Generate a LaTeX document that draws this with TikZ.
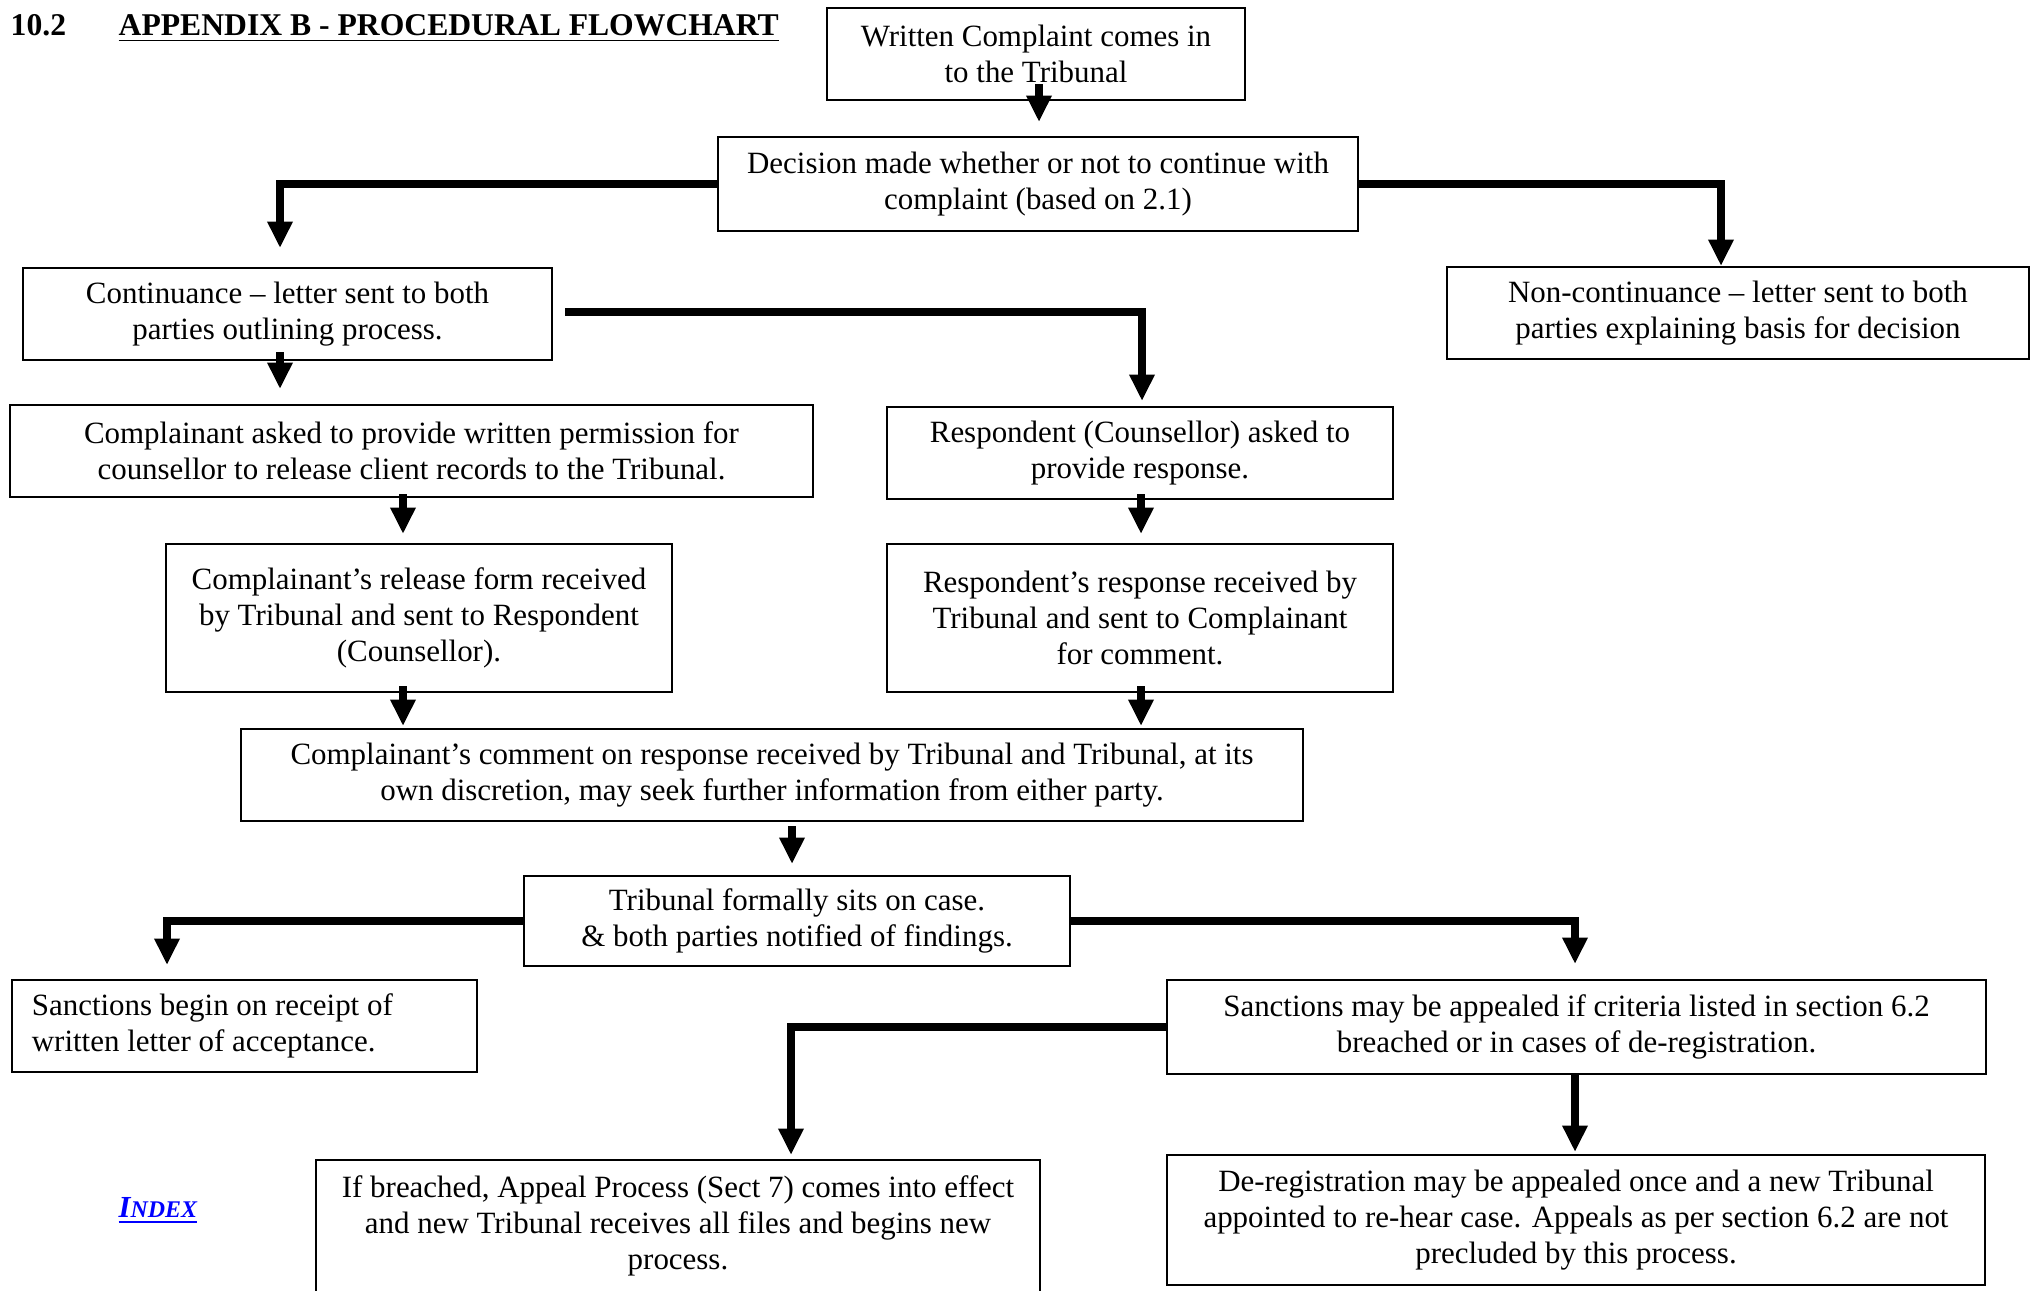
\documentclass[tikz,border=0pt]{standalone}
\usepackage{fontspec}
\setmainfont{Liberation Serif}
\usetikzlibrary{arrows.meta, calc}
\tikzstyle{arrow} = [line width=2.1pt,-{Triangle[length=7.5pt,width=6.8pt]}]
\tikzstyle{box} = [draw, line width=0.6pt, inner sep=0pt, align=center, font=\fontsize{8.8}{10.3}\selectfont]
\definecolor{linkblue}{RGB}{0,0,255}

\begin{document}
\begin{tikzpicture}[x=0.01cm, y=-0.01cm]
    \clip (0,0) rectangle (2033,1290);

    % Heading
    \node[anchor=base west, inner sep=0pt, font=\fontsize{9}{10}\selectfont\bfseries] (num) at (10,35) {10.2};
    \node[anchor=base west, inner sep=0pt, font=\fontsize{9}{10}\selectfont\bfseries] (ttl) at (118,35) {\underline{APPENDIX B - PROCEDURAL FLOWCHART}};

    % First steps
    \node[box, minimum width=4.18cm, minimum height=0.92cm] (wc) at (1036,54) {Written Complaint comes in\\to the Tribunal};
    \node[box, minimum width=6.40cm, minimum height=0.94cm] (dec) at (1038,184) {Decision made whether or not to continue with\\complaint (based on 2.1)};
    \node[box, minimum width=5.29cm, minimum height=0.92cm] (cont) at (287.5,314) {Continuance – letter sent to both\\parties outlining process.};
    \node[box, minimum width=5.82cm, minimum height=0.92cm] (noncont) at (1738,313) {Non-continuance – letter sent to both\\parties explaining basis for decision};

    % Two branches
    \node[box, minimum width=8.03cm, minimum height=0.92cm] (cask) at (411.5,451) {Complainant asked to provide written permission for\\counsellor to release client records to the Tribunal.};
    \node[box, minimum width=5.06cm, minimum height=0.92cm] (rask) at (1140,453) {Respondent (Counsellor) asked to\\provide response.};
    \node[box, minimum width=5.06cm, minimum height=1.48cm] (crel) at (419,618) {Complainant’s release form received\\by Tribunal and sent to Respondent\\(Counsellor).};
    \node[box, minimum width=5.06cm, minimum height=1.48cm] (rresp) at (1140,618) {Respondent’s response received by\\Tribunal and sent to Complainant\\for comment.};
    \node[box, minimum width=10.62cm, minimum height=0.92cm] (ccom) at (772,775) {Complainant’s comment on response received by Tribunal and Tribunal, at its\\own discretion, may seek further information from either party.};

    % Findings
    \node[box, minimum width=5.46cm, minimum height=0.90cm] (trib) at (797,921) {Tribunal formally sits on case.\\\& both parties notified of findings.};
    \node[box, align=flush left, text width=4.25cm, inner xsep=0.2cm, minimum height=0.92cm] (sbeg) at (244.5,1026) {Sanctions begin on receipt of\\written letter of acceptance.};
    \node[box, minimum width=8.19cm, minimum height=0.94cm] (sapp) at (1576.5,1027) {Sanctions may be appealed if criteria listed in section 6.2\\breached or in cases of de-registration.};
    \node[box, minimum width=7.24cm, minimum height=1.32cm] (ifbr) at (678,1226) {If breached, Appeal Process (Sect 7) comes into effect\\and new Tribunal receives all files and begins new\\process.};
    \node[box, minimum width=8.18cm, minimum height=1.30cm] (dereg) at (1576,1220) {De-registration may be appealed once and a new Tribunal\\appointed to re-hear case. Appeals as per section 6.2 are not\\precluded by this process.};

    % Index link
    \node[anchor=base west, inner sep=0pt, text=linkblue, font=\fontsize{8.7}{10}\selectfont\bfseries\itshape] (idx) at (118,1217) {\underline{I{\fontsize{6.8}{8}\selectfont NDEX}}};

    % Arrows
    \draw[arrow] ($(wc.south)+(3,-17)$) -- ($(dec.north -| wc.south)+(3,-14)$);
    \draw[arrow] (dec.west) -| ($(cont.north)+(-7.5,-19)$);
    \draw[arrow] (dec.east) -| ($(noncont.north)+(-17,0)$);
    \draw[arrow] ($(cont.south)+(-7.5,-9)$) -- ($(cask.north -| cont.south)+(-7.5,-15)$);
    \draw[arrow] ($(cont.east)+(12,-2)$) -| ($(rask.north)+(2,-5)$);
    \draw[arrow] ($(cask.south)+(-8.5,-4)$) -- ($(crel.north -| cask.south)+(-8.5,-9)$);
    \draw[arrow] ($(rask.south)+(1,-6)$) -- ($(rresp.north)+(1,-9)$);
    \draw[arrow] ($(crel.south)+(-16,-7)$) -- ($(ccom.north -| crel.south)+(-16,-2)$);
    \draw[arrow] ($(rresp.south)+(1,-7)$) -- ($(ccom.north -| rresp.south)+(1,-2)$);
    \draw[arrow] ($(ccom.south)+(20,4)$) -- ($(trib.north -| ccom.south)+(20,-11)$);
    \draw[arrow] (trib.west) -| ($(sbeg.north)+(-77.5,-14)$);
    \draw[arrow] (trib.east) -| ($(sapp.north)+(-1.5,-15)$);
    \draw[arrow] (sapp.west) -| ($(ifbr.north)+(113,-4)$);
    \draw[arrow] ($(sapp.south)+(-1.5,0)$) -- ($(dereg.north)+(-1,-2)$);

\end{tikzpicture}
\end{document}
